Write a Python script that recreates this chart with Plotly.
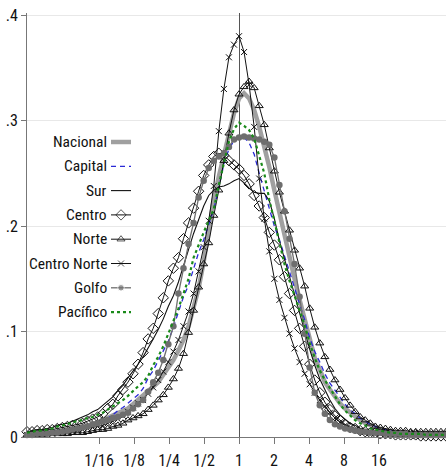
import math
import plotly.graph_objects as go

# ---------------- data (x = ln of ratio, kernel-density grid) ----------------
x_ln = [-4.2, -4.1, -4.0, -3.9, -3.8, -3.7, -3.6, -3.5, -3.4, -3.3,
        -3.2, -3.1, -3.0, -2.9, -2.8, -2.7, -2.6, -2.5, -2.4, -2.3,
        -2.2, -2.1, -2.0, -1.9, -1.8, -1.7, -1.6, -1.5, -1.4, -1.3,
        -1.2, -1.1, -1.0, -0.9, -0.8, -0.7, -0.6, -0.5, -0.4, -0.3,
        -0.2, -0.1, 0.0, 0.1, 0.2, 0.3, 0.4, 0.5, 0.6, 0.7,
        0.8, 0.9, 1.0, 1.1, 1.2, 1.3, 1.4, 1.5, 1.6, 1.7,
        1.8, 1.9, 2.0, 2.1, 2.2, 2.3, 2.4, 2.5, 2.6, 2.7,
        2.8, 2.9, 3.0, 3.1, 3.2, 3.3, 3.4, 3.5, 3.6, 3.7,
        3.8, 3.9, 4.0, 4.1]

nacional = [.002, .002, .003, .003, .004, .004, .005, .006, .007, .007,
            .008, .009, .011, .012, .014, .016, .018, .020, .022, .025,
            .027, .031, .035, .040, .043, .047, .052, .059, .066, .073,
            .082, .092, .105, .123, .141, .166, .196, .225, .247, .267,
            .287, .307, .321, .326, .321, .310, .294, .276, .256, .234,
            .212, .190, .171, .150, .130, .111, .094, .075, .064, .052,
            .045, .038, .032, .027, .023, .019, .016, .013, .011, .009,
            .007, .006, .005, .005, .004, .004, .003, .003, .003, .002,
            .002, .002, .002, .002]

capital = [.003, .003, .004, .004, .005, .005, .006, .007, .007, .008,
           .009, .010, .011, .012, .014, .016, .018, .021, .025, .028,
           .032, .036, .040, .046, .056, .063, .072, .081, .091, .104,
           .118, .133, .144, .160, .175, .187, .201, .216, .236, .259,
           .273, .281, .284, .284, .279, .268, .250, .233, .216, .200,
           .187, .172, .156, .140, .126, .111, .094, .081, .071, .060,
           .051, .044, .037, .031, .026, .022, .018, .015, .012, .010,
           .008, .007, .006, .005, .004, .004, .003, .003, .003, .002,
           .002, .002, .002, .002]

sur = [.005, .006, .007, .007, .008, .009, .011, .012, .013, .015,
       .017, .019, .021, .024, .026, .030, .034, .038, .044, .049,
       .056, .062, .069, .076, .084, .093, .102, .112, .124, .134,
       .147, .163, .177, .193, .206, .219, .229, .234, .237, .238,
       .240, .243, .245, .241, .236, .232, .231, .231, .224, .207,
       .186, .168, .152, .135, .117, .100, .083, .068, .055, .045,
       .035, .027, .021, .017, .013, .011, .008, .007, .005, .005,
       .004, .003, .003, .002, .002, .002, .002, .002, .001, .001,
       .001, .001, .001, .001]

centro = [.005, .005, .006, .006, .007, .007, .008, .009, .010, .011,
          .012, .013, .015, .017, .019, .022, .027, .031, .039, .045,
          .052, .060, .069, .080, .093, .103, .117, .132, .148, .160,
          .170, .188, .203, .217, .233, .248, .258, .266, .269, .267,
          .262, .258, .254, .248, .240, .229, .219, .208, .194, .182,
          .168, .152, .136, .120, .103, .086, .069, .054, .042, .033,
          .026, .020, .016, .012, .009, .008, .006, .005, .004, .004,
          .003, .003, .003, .002, .002, .002, .002, .002, .001, .001,
          .001, .001, .001, .001]

norte = [.002, .002, .002, .002, .003, .003, .003, .003, .003, .004,
         .004, .004, .005, .006, .007, .007, .008, .010, .011, .013,
         .016, .018, .020, .022, .026, .030, .035, .040, .047, .055,
         .065, .079, .099, .120, .142, .164, .184, .210, .234, .262,
         .288, .310, .325, .332, .337, .331, .314, .296, .274, .252,
         .232, .214, .196, .177, .160, .143, .122, .104, .089, .076,
         .064, .054, .045, .037, .030, .024, .019, .016, .013, .010,
         .009, .008, .007, .006, .006, .006, .005, .005, .005, .005,
         .005, .005, .005, .005]

centro_norte = [.002, .002, .002, .003, .003, .003, .004, .004, .005, .005,
                .006, .007, .008, .009, .010, .011, .013, .015, .017, .020,
                .024, .028, .032, .035, .041, .047, .054, .062, .071, .081,
                .092, .105, .119, .136, .157, .180, .205, .238, .290, .330,
                .360, .372, .380, .365, .334, .294, .245, .207, .176, .150,
                .130, .113, .098, .084, .071, .060, .050, .042, .035, .029,
                .023, .018, .014, .011, .009, .007, .006, .005, .004, .004,
                .003, .003, .002, .002, .002, .002, .002, .001, .001, .001,
                .001, .001, .001, .001]

golfo = [.002, .002, .003, .003, .003, .004, .004, .005, .006, .007,
         .008, .009, .010, .012, .013, .015, .016, .018, .019, .021,
         .023, .027, .031, .035, .043, .052, .061, .073, .088, .105,
         .136, .160, .183, .203, .227, .243, .255, .262, .266, .269,
         .275, .282, .284, .285, .284, .283, .282, .280, .277, .265,
         .239, .214, .188, .164, .133, .098, .066, .042, .030, .022,
         .016, .012, .010, .008, .007, .006, .005, .005, .004, .004,
         .004, .003, .003, .003, .003, .003, .002, .002, .002, .002,
         .002, .002, .002, .002]

pacifico = [.004, .005, .006, .006, .007, .008, .010, .011, .012, .014,
            .015, .016, .018, .019, .021, .023, .026, .029, .032, .035,
            .039, .044, .048, .052, .058, .068, .076, .086, .098, .110,
            .122, .136, .150, .170, .183, .194, .205, .216, .239, .261,
            .280, .292, .298, .295, .291, .283, .267, .250, .225, .204,
            .182, .164, .148, .135, .120, .106, .089, .075, .063, .054,
            .046, .038, .031, .025, .020, .016, .013, .011, .008, .007,
            .006, .005, .004, .004, .003, .003, .003, .003, .003, .002,
            .002, .002, .002, .002]

series_names = ["Nacional", "Capital", "Sur", "Centro", "Norte",
                "Centro Norte", "Golfo", "Pacífico"]
series_values = [nacional, capital, sur, centro, norte,
                 centro_norte, golfo, pacifico]

tick_ratios = [1/16, 1/8, 1/4, 1/2, 1, 2, 4, 8, 16]
tick_labels = ["1/16", "1/8", "1/4", "1/2", "1", "2", "4", "8", "16"]
y_ticks = [0, 0.1, 0.2, 0.3, 0.4]
y_tick_labels = ["0", ".1", ".2", ".3", ".4"]

# ---------------- styles ----------------
FONT = "Liberation Sans Narrow, Arial Narrow, Roboto Condensed, Liberation Sans, sans-serif"
styles = {
    "Nacional": dict(mode="lines", line=dict(color="#a0a0a0", width=4.5)),
    "Capital": dict(mode="lines", line=dict(color="#2a2ad6", width=1.3, dash="5px,4px")),
    "Sur": dict(mode="lines", line=dict(color="#111111", width=1.1)),
    "Centro": dict(mode="lines+markers", line=dict(color="#111111", width=1),
                   marker=dict(symbol="diamond-open", size=8, color="#111111",
                               line=dict(width=1))),
    "Norte": dict(mode="lines+markers", line=dict(color="#111111", width=1),
                  marker=dict(symbol="triangle-up-open", size=7, color="#111111",
                              line=dict(width=1))),
    "Centro Norte": dict(mode="lines+markers", line=dict(color="#111111", width=1),
                         marker=dict(symbol="x-thin", size=6, color="#111111",
                                     line=dict(width=1, color="#111111"))),
    "Golfo": dict(mode="lines+markers", line=dict(color="#6e6e6e", width=1.3),
                  marker=dict(symbol="circle", size=6.5, color="#6e6e6e")),
    "Pacífico": dict(mode="lines", line=dict(color="#1a8a1a", width=2.2, dash="dot")),
}

fig = go.Figure()
for name, vals in zip(series_names, series_values):
    fig.add_trace(go.Scatter(x=x_ln, y=vals, name=name, showlegend=False,
                             cliponaxis=False, **styles[name]))

# ---------------- custom legend (text left of key, as in the original) -------
PLOT_L, PLOT_R, PLOT_T, PLOT_B = 27, 446, 13, 437
leg_text_right = 109
leg_key = (111, 131)
leg_top, leg_step = 142, 24.3
annotations = []
for k, name in enumerate(series_names):
    py = leg_top + k * leg_step
    annotations.append(dict(
        text=name, xref="paper", yref="paper",
        x=(leg_text_right - PLOT_L) / (PLOT_R - PLOT_L),
        y=(PLOT_B - py) / (PLOT_B - PLOT_T),
        xanchor="right", yanchor="middle", showarrow=False,
        font=dict(family=FONT, size=15.5, color="#111111")))
    st = styles[name]
    kx = [leg_key[0], (leg_key[0] + leg_key[1]) / 2, leg_key[1]]
    kw = dict(st)
    if "markers" in st["mode"]:
        kw["mode"] = "lines+markers"
        kw["marker"] = dict(st["marker"])
        kw["marker"]["size"] = [0, st["marker"]["size"], 0]
    fig.add_trace(go.Scatter(x=kx, y=[py] * 3, xaxis="x2", yaxis="y2",
                             showlegend=False, hoverinfo="skip", **kw))

fig.update_layout(
    width=446, height=472,
    margin=dict(l=PLOT_L, r=446 - PLOT_R, t=PLOT_T, b=472 - PLOT_B),
    paper_bgcolor="white", plot_bgcolor="white",
    font=dict(family=FONT, size=16, color="#111111"),
    annotations=annotations,
    xaxis=dict(range=[-4.2, 4.1], tickvals=[math.log(r) for r in tick_ratios],
               ticktext=tick_labels, ticks="outside", ticklen=6, tickcolor="#777777",
               ticklabelstandoff=3,
               showline=True, linecolor="#777777", linewidth=1, showgrid=False,
               zeroline=True, zerolinecolor="#555555", zerolinewidth=1,
               tickfont=dict(size=16)),
    yaxis=dict(range=[0, 0.402], tickvals=y_ticks, ticktext=y_tick_labels,
               ticks="outside", ticklen=5, tickcolor="#777777",
               showline=True, linecolor="#777777", linewidth=1,
               showgrid=True, gridcolor="#e8e8e8", gridwidth=1, zeroline=False,
               tickfont=dict(size=16)),
    xaxis2=dict(overlaying="x", range=[PLOT_L, PLOT_R], visible=False),
    yaxis2=dict(overlaying="y", anchor="x2", range=[PLOT_B, PLOT_T], visible=False),
)

fig.write_html("out.html",
               config={"displayModeBar": False},
               post_script="document.body.style.margin='0';"
                           "document.body.style.overflow='hidden';")
